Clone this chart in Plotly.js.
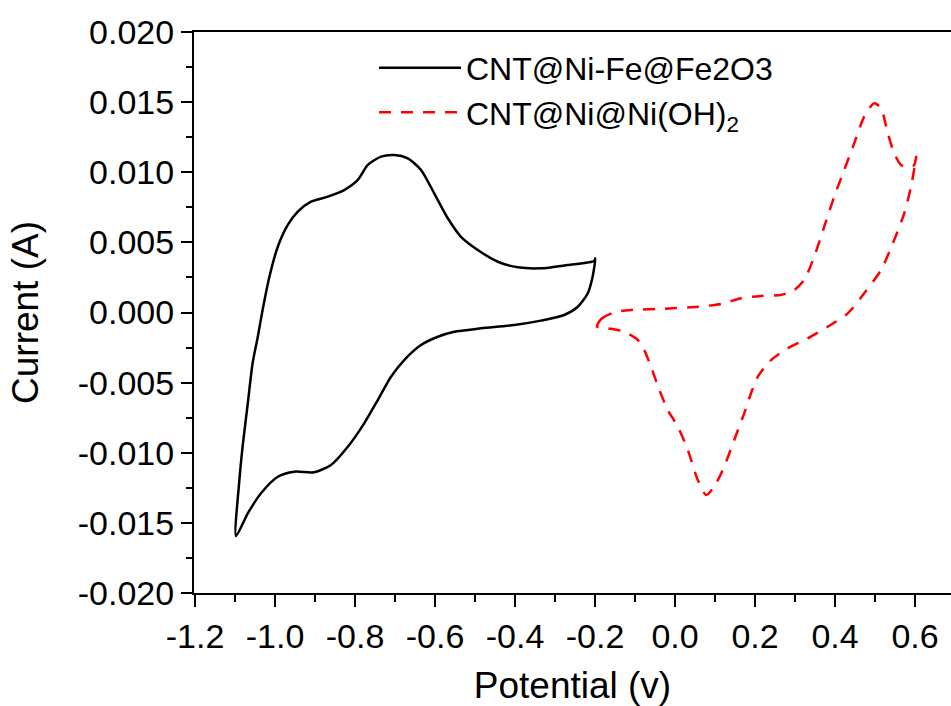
<!DOCTYPE html>
<html>
<head>
<meta charset="utf-8">
<script src="https://cdn.plot.ly/plotly-3.0.1.min.js"></script>
<style>
  html, body { margin: 0; padding: 0; background: #fff; }
  #chart { width: 951px; height: 706px; }
</style>
</head>
<body>
<div id="chart"></div>
<script>
// CNT@Ni-Fe@Fe2O3 cyclic voltammogram (potential V, current A)
const feX = [-1.0975, -1.089, -1.081, -1.068, -1.056, -1.043, -1.031, -1.014, -0.993, -0.968,
  -0.943, -0.910, -0.868, -0.827, -0.793, -0.768, -0.735, -0.702, -0.668, -0.635,
  -0.602, -0.568, -0.535, -0.493, -0.443, -0.393, -0.335, -0.268, -0.202, -0.199,
  -0.206, -0.218, -0.243, -0.277, -0.335, -0.402, -0.485, -0.552, -0.593, -0.635,
  -0.677, -0.710, -0.743, -0.777, -0.818, -0.860, -0.902, -0.952, -0.993, -1.035,
  -1.068, -1.0975];
const feY = [-0.01594, -0.01194, -0.00957, -0.00647, -0.00362, -0.00173, 0.00018, 0.00255, 0.00469, 0.00624,
  0.00719, 0.00790, 0.00826, 0.00873, 0.00945, 0.01052, 0.01111, 0.01123, 0.01099, 0.01016,
  0.00850, 0.00672, 0.00540, 0.00446, 0.00362, 0.00322, 0.00315, 0.00339, 0.00367, 0.00386,
  0.00255, 0.00137, 0.00041, -0.00018, -0.00058, -0.00089, -0.00113, -0.00137, -0.00173, -0.00232,
  -0.00339, -0.00458, -0.00624, -0.00790, -0.00957, -0.01087, -0.01139, -0.01135, -0.01171, -0.01289,
  -0.01432, -0.01594];

// CNT@Ni@Ni(OH)2 cyclic voltammogram
const niX = [-0.195, -0.185, -0.152, -0.110, -0.027, 0.057, 0.115, 0.165, 0.215, 0.265,
  0.298, 0.323, 0.348, 0.373, 0.398, 0.423, 0.448, 0.473, 0.498, 0.515,
  0.532, 0.548, 0.565, 0.586, 0.598, 0.603,
  0.590, 0.573, 0.548, 0.515, 0.473, 0.432, 0.382, 0.332, 0.282, 0.240,
  0.207, 0.190, 0.173, 0.148, 0.123, 0.098, 0.078, 0.057, 0.032, 0.007,
  -0.018, -0.039, -0.060, -0.077, -0.093, -0.127, -0.168, -0.195];
const niY = [-0.00101, -0.00048, 0.00001, 0.00018, 0.00027, 0.00041, 0.00061, 0.00101, 0.00118, 0.00125,
  0.00160, 0.00232, 0.00398, 0.00612, 0.00826, 0.01016, 0.01206, 0.01396, 0.01492, 0.01456,
  0.01278, 0.01135, 0.01052, 0.01035, 0.01052, 0.01111,
  0.00897, 0.00707, 0.00517, 0.00303, 0.00137, -0.00006, -0.00101, -0.00184, -0.00255, -0.00339,
  -0.00458, -0.00576, -0.00719, -0.00909, -0.01099, -0.01242, -0.01301, -0.01194, -0.00980, -0.00814,
  -0.00695, -0.00553, -0.00386, -0.00267, -0.00196, -0.00137, -0.00113, -0.00101];

const seriesNames = ['CNT@Ni-Fe@Fe2O3', 'CNT@Ni@Ni(OH)<sub>2</sub>'];

const xTickVals = [-1.2, -1.0, -0.8, -0.6, -0.4, -0.2, 0.0, 0.2, 0.4, 0.6];
const xTickText = ['-1.2', '-1.0', '-0.8', '-0.6', '-0.4', '-0.2', '0.0', '0.2', '0.4', '0.6'];
const yTickVals = [-0.020, -0.015, -0.010, -0.005, 0.000, 0.005, 0.010, 0.015, 0.020];
const yTickText = ['-0.020', '-0.015', '-0.010', '-0.005', '0.000', '0.005', '0.010', '0.015', '0.020'];

const FONT = 'Liberation Sans, Arial, sans-serif';

const traces = [
  { x: feX, y: feY, type: 'scatter', mode: 'lines', name: seriesNames[0],
    line: { color: '#000000', width: 2.5, shape: 'spline', smoothing: 0.7 } },
  { x: niX, y: niY, type: 'scatter', mode: 'lines', name: seriesNames[1],
    line: { color: '#ff0000', width: 2.5, dash: '12px,10px', shape: 'spline', smoothing: 0.7 } }
];

const layout = {
  width: 951, height: 706,
  margin: { l: 194, r: 0, t: 32, b: 113 },
  paper_bgcolor: '#ffffff', plot_bgcolor: '#ffffff',
  font: { family: FONT, color: '#000000', size: 32 },
  showlegend: true,
  legend: {
    x: 0.2378, y: 0.985, xanchor: 'left', yanchor: 'top',
    bgcolor: 'rgba(0,0,0,0)', borderwidth: 0,
    font: { family: FONT, size: 32, color: '#000' },
    itemwidth: 82, tracegroupgap: 0
  },
  xaxis: {
    range: [-1.2025, 0.69], autorange: false,
    showgrid: false, zeroline: false,
    showline: true, linecolor: '#000', linewidth: 2, mirror: true,
    ticks: 'outside', ticklen: 12, tickwidth: 2, tickcolor: '#000',
    tickmode: 'array', tickvals: xTickVals, ticktext: xTickText,
    tickfont: { family: FONT, size: 34, color: '#000' },
    minor: { tickmode: 'linear', tick0: -1.2, dtick: 0.1, ticks: 'outside', ticklen: 7, tickwidth: 2, tickcolor: '#000', showgrid: false },
    title: { text: 'Potential (v)', font: { family: FONT, size: 37, color: '#000' }, standoff: 18 }
  },
  yaxis: {
    range: [-0.020, 0.020], autorange: false,
    showgrid: false, zeroline: false,
    showline: true, linecolor: '#000', linewidth: 2, mirror: false,
    ticks: 'outside', ticklen: 11, tickwidth: 2, tickcolor: '#000',
    tickmode: 'array', tickvals: yTickVals, ticktext: yTickText,
    tickfont: { family: FONT, size: 34, color: '#000' },
    minor: { tickmode: 'linear', tick0: -0.02, dtick: 0.0025, ticks: 'outside', ticklen: 6, tickwidth: 2, tickcolor: '#000', showgrid: false },
    title: { text: 'Current (A)', font: { family: FONT, size: 37, color: '#000' }, standoff: 28 }
  }
};

Plotly.newPlot('chart', traces, layout, { displayModeBar: false, staticPlot: true });
</script>
</body>
</html>
